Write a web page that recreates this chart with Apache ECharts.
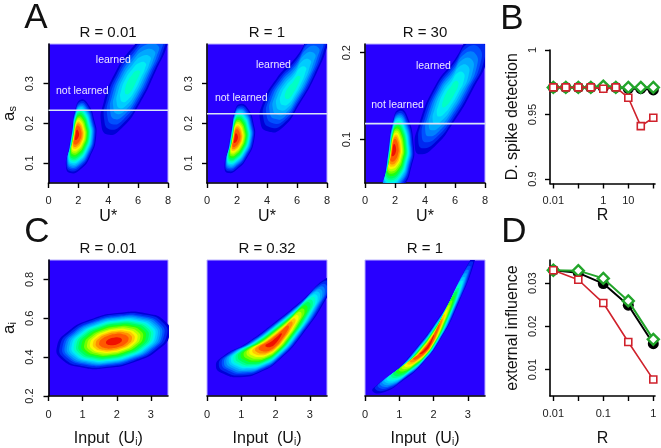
<!DOCTYPE html>
<html><head><meta charset="utf-8">
<style>html,body{margin:0;padding:0;background:#fff}#c{width:661px;height:448px}</style>
<script src="https://cdn.jsdelivr.net/npm/echarts@6/dist/echarts.min.js"></script>
</head><body><div id="c"></div>
<script>
// ---- Line panels ----
const bR = [0.01,0.0316,0.1,0.316,1,3.16,10,31.6,100];
const bBlack = [0.971,0.971,0.971,0.971,0.971,0.971,0.970,0.970,0.969];
const bGreen = [0.971,0.971,0.971,0.971,0.972,0.971,0.971,0.971,0.971];
const bRed   = [0.971,0.971,0.971,0.971,0.970,0.971,0.963,0.941,0.9475];
const dR = [0.01,0.0316,0.1,0.316,1];
const dBlack = [0.033,0.0324,0.0299,0.0249,0.016];
const dGreen = [0.033,0.0329,0.0311,0.0259,0.017];
const dRed   = [0.033,0.0308,0.0254,0.0164,0.0077];
const bXTicks = [0.01,0.1,1,10,100], bXLabels = [0.01,1,10];
const dXTicks = [0.01,0.0316,0.1,0.316,1], dXLabels = [0.01,0.1,1];
const bYTicks = [0.9,0.95,1], dYTicks = [0.01,0.02,0.03];

// ---- Density panels: outer contour and peak of each blob, read in data units ----
const a1SmallPeak=[1.86,0.172], a1Small=[[1.46,.075],[1.17,.092],[1.35,.134],[1.57,.184],[1.79,.235],[2.19,.26],[2.68,.247],[3.06,.209],[3.19,.167],[2.79,.117],[2.13,.084]];
const a1LargePeak=[5.56,0.302], a1Large=[[3.52,.201],[3.94,.172],[4.9,.188],[6.12,.251],[7.22,.335],[8,.402],[8.1,.436],[7,.44],[5.67,.394],[4.45,.327],[3.68,.251]];
const a2SmallPeak=[1.88,0.163], a2Small=[[1.44,.075],[1.17,.088],[1.44,.142],[1.66,.193],[1.88,.235],[2.22,.249],[2.7,.239],[3.1,.201],[3.15,.159],[2.66,.113],[1.99,.084]];
const a2LargePeak=[5.65,0.285], a2Large=[[3.55,.205],[4.03,.18],[4.99,.188],[6.2,.251],[7.31,.327],[8.09,.402],[8.2,.436],[7.2,.436],[5.98,.369],[4.65,.314],[3.72,.251]];
const a3SmallPeak=[1.88,0.0884], a3Small=[[1.11,.042],[1.26,.052],[1.55,.088],[1.88,.123],[2.28,.135],[2.77,.129],[3.26,.092],[3.1,.069],[2.55,.046],[1.66,.035]];
const a3LargePeak=[5.65,0.152], a3Large=[[3.32,.092],[3.66,.083],[4.65,.092],[5.87,.119],[7.2,.158],[8.2,.196],[8.09,.219],[7.09,.219],[5.98,.192],[4.65,.161],[3.55,.115]];
const c1Peak=[1.92,0.481], c1Blob=[[3.55,.517],[3.42,.584],[2.89,.625],[2.09,.629],[1.24,.595],[.57,.532],[.25,.456],[.38,.389],[.98,.347],[1.71,.344],[2.56,.378],[3.23,.441]];
const c2Peak=[1.94,0.476], c2Blob=[[.26,.356],[.48,.314],[.97,.297],[1.55,.322],[2.13,.389],[2.81,.523],[3.5,.707],[3.68,.79],[3.5,.808],[2.81,.699],[1.94,.574],[1.16,.473],[.48,.406]];
const c3Peak=[1.82,0.448], c3Blob=[[.22,.225],[.53,.218],[1.07,.275],[1.66,.364],[2.22,.498],[2.72,.674],[3.22,.908],[3.1,.908],[2.57,.724],[2.04,.574],[1.5,.448],[.85,.322],[.34,.255]];

const bandColors = ['#0000d8','#0028f0','#0050ff','#0080ff','#00a8ff','#00ccff','#00eef4','#00ffc4','#00ff90','#00ff58','#20ff10','#70ff00','#b8ff00','#f8f800','#ffc800','#ff9000','#ff5800','#f01000'];
const fullBandSizes  = [1,.95,.9,.86,.82,.78,.74,.7,.66,.62,.57,.52,.47,.42,.37,.32,.26,.14];
const largeBandSizes = [1,.9,.8,.7,.6,.49,.37,.22];

const thresholds = [0.233,0.2245,0.1184];
const learnedAt = [[4.34,.359],[4.43,.348],[4.56,.185]];
const notLearnedAt = [[2.26,.281],[2.28,.264],[2.17,.140]];

const topTitles = ['R = 0.01','R = 1','R = 30'];
const bottomTitles = ['R = 0.01','R = 0.32','R = 1'];
const FONT = '"Liberation Sans", Arial, sans-serif';
const BG = '#2800ff', INK = '#111';

const grids=[], xAxes=[], yAxes=[], series=[], texts=[];
function addText(t,x,y,size,color){texts.push({type:'text',x,y,silent:true,z:20,style:{text:t,font:size+'px '+FONT,fill:color||INK,align:'center',verticalAlign:'middle'}});}

function baseAxisLine(){return {show:true,onZero:false,lineStyle:{color:'#000',width:1.6}};}
function addGrid(g,x,y){
  const i=grids.length; grids.push(Object.assign({containLabel:false},g));
  xAxes.push(Object.assign({gridIndex:i,type:'value',splitLine:{show:false},nameLocation:'middle',
    axisLine:baseAxisLine(),axisTick:{show:true,length:5,lineStyle:{color:'#000',width:1.4}},
    nameTextStyle:{fontFamily:FONT,fontSize:16,color:INK}},x));
  yAxes.push(Object.assign({gridIndex:i,type:'value',splitLine:{show:false},nameLocation:'middle',
    axisLine:baseAxisLine(),axisTick:{show:true,length:5,lineStyle:{color:'#000',width:1.4}},
    nameTextStyle:{fontFamily:FONT,fontSize:16,color:INK}},y));
  return i;
}
function tickSet(ticks,labels,extra){
  return Object.assign({
    axisTick:{show:true,length:5,customValues:ticks,lineStyle:{color:'#000',width:1.4}},
    axisLabel:Object.assign({show:true,customValues:labels,color:'#222',fontFamily:FONT,fontSize:11},extra||{})
  });
}
function densitySeries(i,blobs){
  const items=[];
  bandColors.forEach((_,lv)=>blobs.forEach((b,bi)=>{ if(lv<b.sizes.length) items.push([bi,lv]); }));
  series.push({type:'custom',xAxisIndex:i,yAxisIndex:i,clip:true,silent:true,z:2,data:items,
    renderItem(p,api){
      const b=blobs[api.value(0)], lv=api.value(1), s=b.sizes[lv];
      const pts=b.outline.map(o=>api.coord([b.peak[0]+(o[0]-b.peak[0])*s,b.peak[1]+(o[1]-b.peak[1])*s]));
      return {type:'polygon',shape:{points:pts,smooth:0.55},style:{fill:bandColors[lv]}};
    }});
}
function densityGrid(left,top,xMax,xTicks,yMin,yMax,yTicks,showY,xName,yName){
  const g={left,top,width:120,height:139,show:true,backgroundColor:BG,borderWidth:1,borderColor:'#b9b0ff'};
  const xa=Object.assign({min:0,max:xMax,name:xName},tickSet(xTicks,xTicks,{margin:xName==='U*'?12:13}));
  xa.nameGap=xName==='U*'?26:34;
  const ya=Object.assign({min:yMin,max:yMax},tickSet(yTicks,yTicks,{rotate:90,margin:13}));
  if(!showY){ya.axisLine={show:false};ya.axisTick={show:false};ya.axisLabel={show:false};}
  if(yName){ya.name=yName;ya.nameGap=30;ya.nameTextStyle={rich:{a:{fontSize:17,fontFamily:FONT,color:INK},s:{fontSize:11,fontFamily:FONT,color:INK,padding:[7,0,0,0]}}};}
  return addGrid(g,xa,ya);
}
// Panels A
const aLefts=[48,207,365];
const aData=[[a1Small,a1SmallPeak,a1Large,a1LargePeak],[a2Small,a2SmallPeak,a2Large,a2LargePeak],[a3Small,a3SmallPeak,a3Large,a3LargePeak]];
const aYMax=[0.4,0.4,0.21], aYTicks=[[.1,.2,.3],[.1,.2,.3],[.1,.2]];
aLefts.forEach((l,k)=>{
  const i=densityGrid(l,44,8,[0,2,4,6,8],0.05,aYMax[k],aYTicks[k],true,'U*',k===0?'{a|a}{s|s}':null);
  const d=aData[k];
  densitySeries(i,[{outline:d[0],peak:d[1],sizes:fullBandSizes},{outline:d[2],peak:d[3],sizes:largeBandSizes}]);
  series.push({type:'line',xAxisIndex:i,yAxisIndex:i,z:4,silent:true,showSymbol:false,data:[[0,thresholds[k]],[8,thresholds[k]]],lineStyle:{color:'#d8e4f6',width:1.6}});
  series.push({type:'custom',xAxisIndex:i,yAxisIndex:i,z:5,silent:true,clip:false,data:[[learnedAt[k][0],learnedAt[k][1],0],[notLearnedAt[k][0],notLearnedAt[k][1],1]],
    renderItem(p,api){const c=api.coord([api.value(0),api.value(1)]);
      return {type:'text',x:c[0],y:c[1],style:{text:api.value(2)?'not learned':'learned',font:'10.5px '+FONT,fill:'#ece8ff',align:'center',verticalAlign:'middle'}};}});
  addText(topTitles[k],l+60,33,15);
});
// Panels C
const cLefts=[48,207,365];
const cData=[[c1Blob,c1Peak],[c2Blob,c2Peak],[c3Blob,c3Peak]];
const inputName='{t|Input  (U}{s|i}{t|)}';
cLefts.forEach((l,k)=>{
  const i=densityGrid(l,260,3.5,[0,1,2,3],0.2,0.9,[.2,.4,.6,.8],k===0,inputName,k===0?'{a|a}{s|i}':null);
  xAxes[i].nameTextStyle={rich:{t:{fontSize:16,fontFamily:FONT,color:INK},s:{fontSize:10,fontFamily:FONT,color:INK,padding:[7,0,0,0]}}};
  densitySeries(i,[{outline:cData[k][0],peak:cData[k][1],sizes:fullBandSizes}]);
  addText(bottomTitles[k],l+60,249,15);
});
// Panels B and D: R is placed on a log10 value axis
const fmtR=v=>String(Number(Math.pow(10,v).toPrecision(1)));
function linePanel(top,height,xMin,xMax,xTicks,xLabels,yMin,yMax,yTicks,name,R,blk,grn,red){
  const i=addGrid({left:550,top,width:105,height},
    Object.assign({min:xMin,max:xMax,name:'R',nameGap:top<200?24:35},tickSet(xTicks.map(Math.log10),xLabels.map(Math.log10),{margin:12,formatter:fmtR})),
    Object.assign({min:yMin,max:yMax,name,nameGap:29},tickSet(yTicks,yTicks,{rotate:90,margin:12})));
  const pts=a=>a.map((v,j)=>[Math.log10(R[j]),v]);
  const common={xAxisIndex:i,yAxisIndex:i,clip:false,silent:true,showSymbol:true,showAllSymbol:true};
  series.push(Object.assign({type:'line',data:pts(blk),z:6,symbol:'circle',symbolSize:11,lineStyle:{color:'#000',width:2},itemStyle:{color:'#000'}},common));
  series.push(Object.assign({type:'line',data:pts(grn),z:7,symbol:'diamond',symbolSize:11,lineStyle:{color:'#22a52a',width:2},itemStyle:{color:'#fff',borderColor:'#22a52a',borderWidth:2.4}},common));
  series.push(Object.assign({type:'line',data:pts(red),z:8,symbol:'rect',symbolSize:7,lineStyle:{color:'#d0222c',width:1.6},itemStyle:{color:'#fff',borderColor:'#d0222c',borderWidth:1.6}},common));
}
linePanel(50,133.5,-2.132,2.068,bXTicks,bXLabels,0.8965,1,bYTicks,'D. spike detection',bR,bBlack,bGreen,bRed);
linePanel(260,139,-2.066,0.034,dXTicks,dXLabels,0.0039,0.03536,dYTicks,'external influence',dR,dBlack,dGreen,dRed);

addText('A',36,18,35);addText('B',512,19,35);addText('C',37,232,35);addText('D',514,232,35);

const chart=echarts.init(document.getElementById('c'),null,{renderer:'canvas'});
chart.setOption({animation:false,backgroundColor:'#fff',grid:grids,xAxis:xAxes,yAxis:yAxes,series,graphic:texts});
</script></body></html>
